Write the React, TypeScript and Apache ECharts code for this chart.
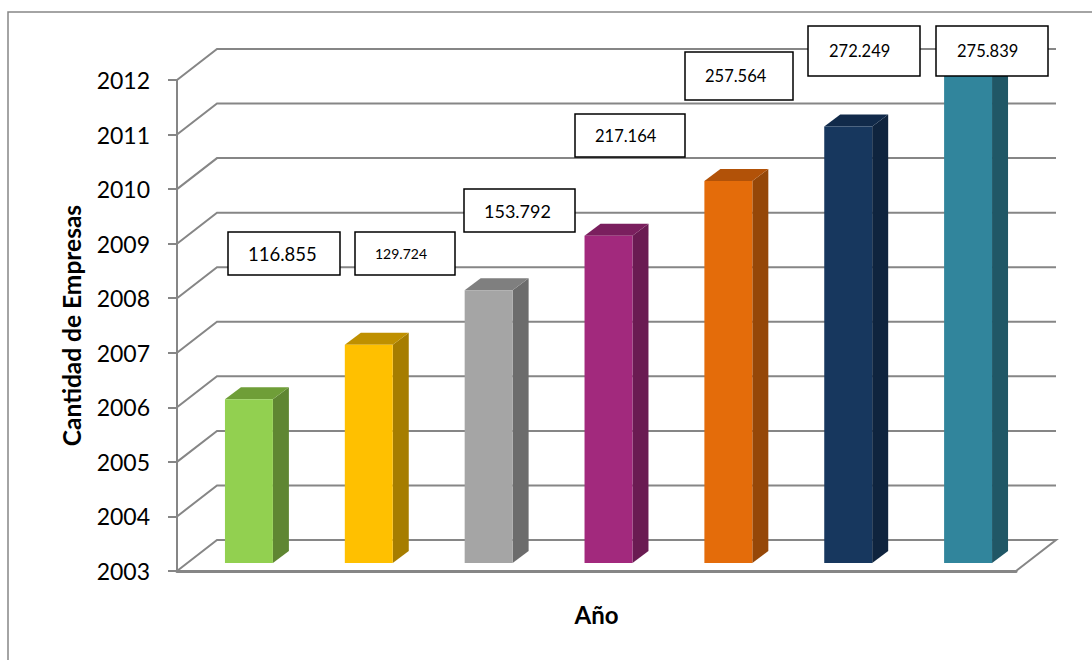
import React, { useEffect, useRef } from "react";
import * as echarts from "echarts";

const categories = ["2006", "2007", "2008", "2009", "2010", "2011", "2012"];
const barValues = [2006, 2007, 2008, 2009, 2010, 2011, 2012];
const calloutLabels = ["116.855", "129.724", "153.792", "217.164", "257.564", "272.249", "275.839"];
const gridYears = [2003, 2004, 2005, 2006, 2007, 2008, 2009, 2010, 2011, 2012];
const frontColors = ["#92D050", "#FFC000", "#A5A5A5", "#A2297D", "#E46C0A", "#17375E", "#31859C"];
const sideColors = ["#5F8632", "#A67D00", "#6C6C6C", "#6A1B52", "#954708", "#0F243E", "#205766"];
const topColors = ["#6F9E38", "#BF9000", "#7F7F7F", "#7A1F5E", "#B25208", "#112A4A", "#256678"];

const calloutBoxes = [
  { x: 228, y: 232, w: 112, h: 43, size: 18.5, pad: 20 },
  { x: 355, y: 232, w: 100, h: 43, size: 14, pad: 20 },
  { x: 464, y: 189, w: 111, h: 43, size: 18, pad: 20 },
  { x: 575, y: 114, w: 110, h: 43, size: 16.5, pad: 20 },
  { x: 685, y: 52, w: 108, h: 48, size: 16.5, pad: 20 },
  { x: 808, y: 26, w: 112, h: 50, size: 16.5, pad: 21 },
  { x: 936, y: 26, w: 112, h: 50, size: 16.5, pad: 21 },
];

const WALL_DX = 40;
const WALL_DY = -31;
const BAR_SHIFT_X = 12;
const BAR_SHIFT_Y = -8;
const BAR_WIDTH_RATIO = 0.4;
const BAR_DX = 16;
const BAR_DY = -12;
const GRID_COLOR = "#868686";
const FONT = "Lato, 'Open Sans', sans-serif";

export default function App() {
  const ref = useRef<HTMLDivElement | null>(null);

  useEffect(() => {
    const chart = echarts.init(ref.current!, undefined, { renderer: "svg" });

    const wallItem = (_: any, api: any) => {
      const year = api.value(0);
      const left = api.coord([0, year]);
      const xStart = left[0] - api.size([1, 0])[0] / 2;
      const xEnd = xStart + api.size([1, 0])[0] * categories.length;
      const y = left[1];
      const style = { stroke: GRID_COLOR, lineWidth: 2, fill: "none" };
      const children: any[] = [
        {
          type: "polyline",
          shape: {
            points:
              year === gridYears[0]
                ? [
                    [xStart, y],
                    [xStart + WALL_DX, y + WALL_DY],
                    [xEnd + WALL_DX, y + WALL_DY],
                    [xEnd, y],
                  ]
                : [
                    [xStart, y],
                    [xStart + WALL_DX, y + WALL_DY],
                    [xEnd + WALL_DX, y + WALL_DY],
                  ],
          },
          style,
        },
      ];
      return { type: "group", children };
    };

    const barItem = (params: any, api: any) => {
      const i = params.dataIndex;
      const top = api.coord([api.value(0), api.value(1)]);
      const base = api.coord([api.value(0), gridYears[0]]);
      const w = api.size([1, 0])[0] * BAR_WIDTH_RATIO;
      const x0 = top[0] + BAR_SHIFT_X - w / 2;
      const x1 = x0 + w;
      const yT = top[1] + BAR_SHIFT_Y;
      const yB = base[1] + BAR_SHIFT_Y;
      return {
        type: "group",
        children: [
          {
            type: "polygon",
            shape: {
              points: [
                [x1, yT],
                [x1 + BAR_DX, yT + BAR_DY],
                [x1 + BAR_DX, yB + BAR_DY],
                [x1, yB],
              ],
            },
            style: { fill: sideColors[i] },
          },
          {
            type: "polygon",
            shape: {
              points: [
                [x0, yT],
                [x0 + BAR_DX, yT + BAR_DY],
                [x1 + BAR_DX, yT + BAR_DY],
                [x1, yT],
              ],
            },
            style: { fill: topColors[i] },
          },
          {
            type: "rect",
            shape: { x: x0, y: yT, width: w, height: yB - yT },
            style: { fill: frontColors[i] },
          },
        ],
      };
    };

    chart.setOption({
      animation: false,
      backgroundColor: "#FFFFFF",
      textStyle: { fontFamily: FONT },
      grid: { left: 177, right: 76, top: 80, bottom: 89, containLabel: false },
      xAxis: {
        type: "category",
        data: categories,
        name: "Año",
        nameLocation: "middle",
        nameGap: 31,
        nameTextStyle: { fontFamily: FONT, fontSize: 24, fontWeight: "bold", color: "#000000" },
        axisLine: { show: true, lineStyle: { color: GRID_COLOR, width: 3 } },
        axisTick: { show: false },
        axisLabel: { show: false },
        splitLine: { show: false },
      },
      yAxis: {
        type: "value",
        min: 2003,
        max: 2012,
        interval: 1,
        name: "Cantidad de Empresas",
        nameLocation: "middle",
        nameGap: 93,
        nameTextStyle: { fontFamily: FONT, fontSize: 24.5, fontWeight: "bold", color: "#000000" },
        axisLine: { show: true, lineStyle: { color: GRID_COLOR, width: 2 } },
        axisTick: { show: true, length: 9, lineStyle: { color: GRID_COLOR, width: 2 } },
        axisLabel: {
          margin: 27,
          fontFamily: FONT,
          fontSize: 23,
          color: "#000000",
          formatter: (v: number) => String(v),
        },
        splitLine: { show: false },
      },
      series: [
        {
          type: "custom",
          name: "Pared",
          z: 1,
          silent: true,
          renderItem: wallItem,
          encode: { y: 0 },
          data: gridYears.map((y) => [y]),
        },
        {
          type: "custom",
          name: "Empresas",
          z: 3,
          renderItem: barItem,
          encode: { x: 0, y: 1 },
          data: barValues.map((v, i) => [i, v]),
        },
      ],
      graphic: [
        {
          type: "polyline",
          z: 0,
          silent: true,
          shape: {
            points: [
              [8, 662],
              [8, 12],
              [1094, 12],
            ],
          },
          style: { stroke: GRID_COLOR, lineWidth: 1.5, fill: "none" },
        },
        ...calloutBoxes.map((b, i) => ({
          type: "group",
          z: 10,
          silent: true,
          children: [
            {
              type: "rect",
              z: 10,
              shape: { x: b.x, y: b.y, width: b.w, height: b.h },
              style: { fill: "#FFFFFF", stroke: "#000000", lineWidth: 1.5 },
            },
            {
              type: "text",
              z: 11,
              x: b.x + b.pad,
              y: b.y + b.h / 2,
              style: {
                text: calloutLabels[i],
                font: `${b.size}px ${FONT}`,
                fill: "#000000",
                textAlign: "left",
                textVerticalAlign: "middle",
              },
            },
          ],
        })),
      ],
    });

    return () => chart.dispose();
  }, []);

  return (
    <div
      ref={ref}
      style={{ position: "fixed", left: 0, top: 0, width: 1092, height: 660 }}
    />
  );
}
